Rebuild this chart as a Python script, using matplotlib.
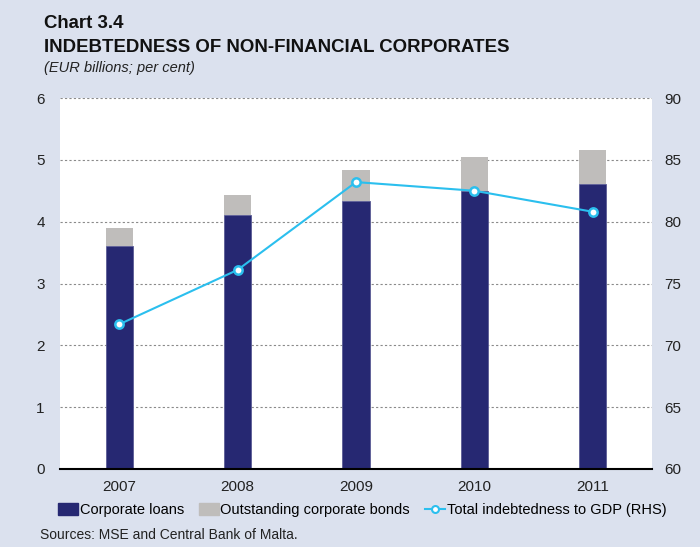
import matplotlib.pyplot as plt
from matplotlib.lines import Line2D
from matplotlib.patches import Patch

plt.rcParams['font.family'] = ['Liberation Sans', 'DejaVu Sans']

years = ["2007", "2008", "2009", "2010", "2011"]
corporate_loans = [3.61, 4.11, 4.34, 4.50, 4.61]
corporate_bonds = [0.29, 0.32, 0.50, 0.55, 0.55]
debt_to_gdp = [71.7, 76.1, 83.2, 82.5, 80.8]

bg = "#dbe1ee"
navy = "#262872"
grey = "#bfbdbb"
cyan = "#2bbfee"

fig = plt.figure(figsize=(7, 5.47), dpi=100, facecolor=bg)
ax = fig.add_axes([60/700, 78/547, 592/700, 371/547])
ax.set_facecolor("white")

x = range(len(years))
ax.bar(x, corporate_loans, width=0.23, color=navy, edgecolor="#5a5c95", linewidth=0.6, zorder=2)
ax.bar(x, corporate_bonds, width=0.23, bottom=corporate_loans, color=grey, zorder=2)

ax.set_xlim(-0.5, 4.5)
ax.set_ylim(0, 6)
ax.set_yticks(range(0, 7))
ax.set_xticks(list(x))
ax.set_xticklabels(years)
ax.grid(axis="y", color="#8a8a8a", linestyle=(0, (2, 2)), linewidth=0.8, zorder=1)
for s in ["left", "right", "top"]:
    ax.spines[s].set_visible(False)
ax.spines["bottom"].set_color("black")
ax.spines["bottom"].set_linewidth(1.5)
ax.tick_params(axis="both", length=0, labelsize=11, colors="#222222")
ax.tick_params(axis="y", pad=11)
ax.tick_params(axis="x", pad=8)

ax2 = ax.twinx()
ax2.plot(list(x), debt_to_gdp, color=cyan, linewidth=1.5, marker="o", markersize=6,
         markerfacecolor="white", markeredgecolor=cyan, markeredgewidth=1.8, zorder=3)
ax2.set_ylim(60, 90)
ax2.set_yticks(range(60, 91, 5))
for s in ["left", "right", "top", "bottom"]:
    ax2.spines[s].set_visible(False)
ax2.tick_params(axis="y", length=0, labelsize=11, colors="#222222", pad=9)

fig.text(44/700, 1 - 23/547, "Chart 3.4", fontsize=13.4, fontweight="bold", va="center", color="#111111")
fig.text(44/700, 1 - 48/547, "INDEBTEDNESS OF NON-FINANCIAL CORPORATES", fontsize=13.4,
         fontweight="bold", va="center", color="#111111")
fig.text(44/700, 1 - 68/547, "(EUR billions; per cent)", fontsize=10.5, style="italic",
         va="center", color="#222222")

handles = [
    Patch(color=navy, label="Corporate loans"),
    Patch(color=grey, label="Outstanding corporate bonds"),
    Line2D([], [], color=cyan, linewidth=1.5, marker="o", markersize=5,
           markerfacecolor="white", markeredgecolor=cyan, markeredgewidth=1.5,
           label="Total indebtedness to GDP (RHS)"),
]
fig.legend(handles=handles, loc="center", bbox_to_anchor=(362/700, 1 - 510/547), ncol=3,
           frameon=False, fontsize=10.5, handlelength=1.4, handletextpad=0.1,
           columnspacing=1.0, handleheight=0.8)

fig.text(40/700, 1 - 535/547, "Sources: MSE and Central Bank of Malta.", fontsize=10,
         va="center", color="#222222")

fig.savefig("out.png", dpi=100, facecolor=bg)
